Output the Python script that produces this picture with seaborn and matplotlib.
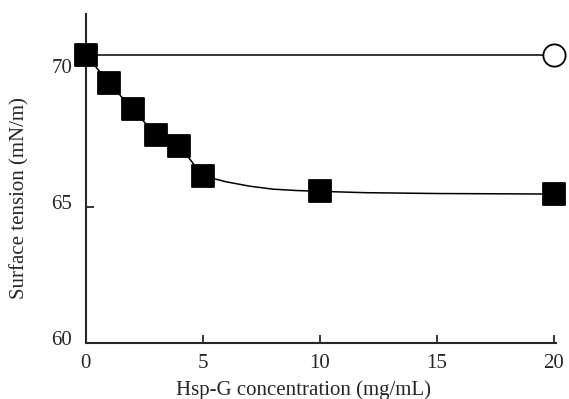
import seaborn as sns
import matplotlib.pyplot as plt
import matplotlib.transforms as mtransforms
import pandas as pd

# measured points (Hsp-G)
conc = [0, 1, 2, 3, 4, 5, 10, 20]
tension = [70.6, 69.55, 68.6, 67.65, 67.25, 66.15, 65.6, 65.5]

# hand-drawn trend curve
curve_x = [0, 1, 2, 3, 4, 5, 6, 7, 8, 9, 10, 12, 15, 20]
curve_y = [70.6, 69.55, 68.6, 67.65, 67.25, 66.15, 65.93, 65.77, 65.66, 65.61, 65.58, 65.53, 65.5, 65.48]

# control (no Hsp-G)
ctrl_x = [0, 20]
ctrl_y = [70.6, 70.6]

xticks = [0, 5, 10, 15, 20]
yticks = [60, 65, 70]

sns.set_style('ticks')
plt.rcParams['font.family'] = ['Liberation Serif', 'DejaVu Serif']

pts = pd.DataFrame({'conc': conc, 'tension': tension})
crv = pd.DataFrame({'x': curve_x, 'y': curve_y})
ctl = pd.DataFrame({'x': ctrl_x, 'y': ctrl_y})

fig = plt.figure(figsize=(5.69, 3.99), dpi=100)
ax = fig.add_axes([0.151, 0.14, 0.826, 0.825])

sns.lineplot(data=ctl, x='x', y='y', color='black', lw=1.1, ax=ax)
sns.lineplot(data=crv, x='x', y='y', color='black', lw=1.1, ax=ax)
ax.plot(ctrl_x[-1], ctrl_y[-1], 'o', ms=16, mfc='white', mec='black', mew=1.3, clip_on=False, zorder=5)
sns.scatterplot(data=pts, x='conc', y='tension', marker='s', s=260, color='black',
                edgecolor='black', clip_on=False, zorder=6, ax=ax)

ax.set_xlim(0, 20.1)
ax.set_ylim(60, 72.1)
ax.set_xticks(xticks)
ax.set_yticks(yticks)
ax.tick_params(direction='in', length=6, width=1.3, labelsize=15, pad=8)
ax.tick_params(axis='y', pad=10)
for s in ['top', 'right']:
    ax.spines[s].set_visible(False)
for s in ['left', 'bottom']:
    ax.spines[s].set_linewidth(1.5)

# no visible tick mark at 70 in the original
ax.yaxis.get_major_ticks()[-1].tick1line.set_visible(False)

# y tick labels sit a little above their ticks in the original
shift = mtransforms.ScaledTranslation(0, 5 / 100, fig.dpi_scale_trans)
for lab in ax.get_yticklabels():
    lab.set_transform(lab.get_transform() + shift)

ax.set_xlabel('Hsp-G concentration (mg/mL)', fontsize=15)
ax.set_ylabel('Surface tension (mN/m)', fontsize=15)
ax.xaxis.set_label_coords(0.464, -0.112)
ax.yaxis.set_label_coords(-0.12, 0.44)

fig.savefig('out.png', dpi=100)
